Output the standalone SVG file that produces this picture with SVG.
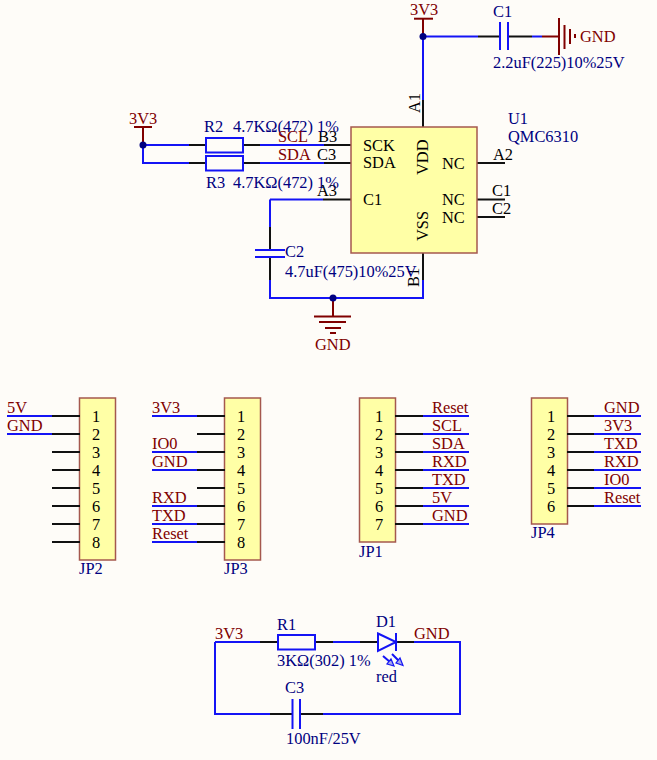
<svg xmlns="http://www.w3.org/2000/svg" width="657" height="760" viewBox="0 0 657 760">
<style>
text{font-family:"Liberation Serif","Times New Roman",serif;font-size:16.4px}
.n{fill:#000080}.r{fill:#800000}.k{fill:#000}
.w{fill:none;stroke:#1414f5;stroke-width:2}
.p{fill:none;stroke:#111;stroke-width:2}
.d{fill:none;stroke:#800000;stroke-width:2}
.b{fill:#ffffa6;stroke:#a5584e;stroke-width:1.5}
.c{fill:none;stroke:#1414f5;stroke-width:2}
.a{fill:#a8a8e8;stroke:#1414f5;stroke-width:1.2}
.j{fill:#000080}
.m{text-anchor:middle}
</style>
<rect width="657" height="760" fill="#fefcf8"/>
<g id="connectors">
<path class="w" d="M423 36.500V100M423 36.500H478M532 36.500H542M143 145H189M143 145V163H189M260 145H324M260 163H324M270 199.500H323M270 199.500V227M270 280V298H423V280M215 642H260M333 642H360M414 642H460V714H323M270 714H215V642"/>
<path class="p" d="M423 100V127M478 36.500H500M508 36.500H532M189 145H206M243 145H260M189 163H206M243 163H260M324 145H351M324 163H351M323 199.500H351M270 227V250M270 257V280M423 253V280M477 163H505M477 199.500H505M477 217H505M260 642H278M315 642H333M360 642H378M396 642H414M270 714H292M300 714H323"/>
<path class="d" d="M423 36.500V19M143 145V127M333 298V316M542 36.500H559"/>
</g>
<g id="U1">
<rect class="b" x="351" y="127" width="126" height="126"/>
<text class="k" x="363" y="151">SCK</text><text class="k" x="363" y="168">SDA</text><text class="k" x="363" y="205">C1</text>
<text class="k" x="442" y="169">NC</text><text class="k" x="442" y="205">NC</text><text class="k" x="442" y="223">NC</text>
<text class="k" transform="translate(428 175) rotate(-90)">VDD</text><text class="k" transform="translate(428 241) rotate(-90)">VSS</text>
<text class="k" transform="translate(420 113) rotate(-90)">A1</text><text class="k" transform="translate(419 287) rotate(-90)">B1</text>
<text class="k" x="318" y="142">B3</text><text class="k" x="317" y="160">C3</text><text class="k" x="317" y="196">A3</text>
<text class="k" x="493" y="160">A2</text><text class="k" x="492" y="196">C1</text><text class="k" x="492" y="214">C2</text>
<text class="n" x="508" y="124">U1</text><text class="n" x="508" y="142">QMC6310</text>
</g>
<g id="PWR-top"><path class="d" d="M414 18.700H433"/><circle class="j" cx="423" cy="36.500" r="3.500"/><text class="r" x="410" y="15">3V3</text></g>
<g id="C1"><path class="c" d="M500 22V50M508 22V50"/><text class="n" x="493" y="17">C1</text><text class="n" x="493" y="68">2.2uF(225)10%25V</text></g>
<g id="GND-C1"><path class="d" d="M559 18V55M564.500 25V49M570 29V44M575 34V38"/><text class="r" x="580" y="42">GND</text></g>
<g id="PWR-left"><path class="d" d="M134 127H152"/><circle class="j" cx="143" cy="145" r="3.500"/><text class="r" x="129" y="124">3V3</text></g>
<g id="R2"><rect class="c" x="206" y="138" width="37" height="14.500"/><text class="n" x="204" y="132">R2</text><text class="n" x="233" y="132">4.7KΩ(472) 1%</text></g>
<g id="R3"><rect class="c" x="206" y="156" width="37" height="14.500"/><text class="n" x="206" y="188">R3</text><text class="n" x="233" y="188">4.7KΩ(472) 1%</text></g>
<g id="NetSCL"><text class="r" x="278" y="142">SCL</text></g>
<g id="NetSDA"><text class="r" x="278" y="160">SDA</text></g>
<g id="C2"><path class="c" d="M255 250H285M255 257H285"/><text class="n" x="285" y="257">C2</text><text class="n" x="285" y="277">4.7uF(475)10%25V</text></g>
<g id="GND-U1"><circle class="j" cx="333" cy="298" r="3.500"/><path class="d" d="M314 316.500H351M319 322H346M325 328H341M330 333H336"/><text class="r" x="315" y="350">GND</text></g>

<g id="JP2">
<rect class="b" x="79.500" y="398" width="36" height="162"/>
<path class="w" d="M7 416H52M7 434H52"/>
<path class="p" d="M52 416H80M52 434H80M52 452H80M52 470H80M52 488H80M52 506H80M52 524H80M52 542H80"/>
<g class="m"><text x="96" y="422">1</text><text x="96" y="440">2</text><text x="96" y="458">3</text><text x="96" y="476">4</text><text x="96" y="494">5</text><text x="96" y="512">6</text><text x="96" y="530">7</text><text x="96" y="548">8</text></g>
<text class="r" x="7" y="413">5V</text><text class="r" x="7" y="431">GND</text>
<text class="n" x="79" y="574">JP2</text>
</g>
<g id="JP3">
<rect class="b" x="224.500" y="398" width="36" height="162"/>
<path class="w" d="M152 416H197M152 452H197M152 470H197M152 506H197M152 524H197M152 542H197"/>
<path class="p" d="M197 416H225M197 434H225M197 452H225M197 470H225M197 488H225M197 506H225M197 524H225M197 542H225"/>
<g class="m"><text x="241" y="422">1</text><text x="241" y="440">2</text><text x="241" y="458">3</text><text x="241" y="476">4</text><text x="241" y="494">5</text><text x="241" y="512">6</text><text x="241" y="530">7</text><text x="241" y="548">8</text></g>
<text class="r" x="152" y="413">3V3</text><text class="r" x="152" y="449">IO0</text><text class="r" x="152" y="467">GND</text><text class="r" x="152" y="503">RXD</text><text class="r" x="152" y="521">TXD</text><text class="r" x="152" y="539">Reset</text>
<text class="n" x="224" y="574">JP3</text>
</g>
<g id="JP1">
<rect class="b" x="359.500" y="398" width="36" height="144"/>
<path class="w" d="M423 416H469M423 434H469M423 452H469M423 470H469M423 488H469M423 506H469M423 524H469"/>
<path class="p" d="M395 416H423M395 434H423M395 452H423M395 470H423M395 488H423M395 506H423M395 524H423"/>
<g class="m"><text x="379" y="422">1</text><text x="379" y="440">2</text><text x="379" y="458">3</text><text x="379" y="476">4</text><text x="379" y="494">5</text><text x="379" y="512">6</text><text x="379" y="530">7</text></g>
<text class="r" x="432" y="413">Reset</text><text class="r" x="432" y="431">SCL</text><text class="r" x="432" y="449">SDA</text><text class="r" x="432" y="467">RXD</text><text class="r" x="432" y="485">TXD</text><text class="r" x="432" y="503">5V</text><text class="r" x="432" y="521">GND</text>
<text class="n" x="359" y="557">JP1</text>
</g>
<g id="JP4">
<rect class="b" x="531.500" y="398" width="36" height="126"/>
<path class="w" d="M594 416H641M594 434H641M594 452H641M594 470H641M594 488H641M594 506H641"/>
<path class="p" d="M567 416H594M567 434H594M567 452H594M567 470H594M567 488H594M567 506H594"/>
<g class="m"><text x="551" y="422">1</text><text x="551" y="440">2</text><text x="551" y="458">3</text><text x="551" y="476">4</text><text x="551" y="494">5</text><text x="551" y="512">6</text></g>
<text class="r" x="604" y="413">GND</text><text class="r" x="604" y="431">3V3</text><text class="r" x="604" y="449">TXD</text><text class="r" x="604" y="467">RXD</text><text class="r" x="604" y="485">IO0</text><text class="r" x="604" y="503">Reset</text>
<text class="n" x="531" y="538">JP4</text>
</g>
<g id="R1"><rect class="c" x="278" y="635" width="37" height="14.500"/><text class="n" x="277" y="630">R1</text><text class="n" x="277" y="666">3KΩ(302) 1%</text></g>
<g id="D1"><path class="c" d="M378 633.500L396 642L378 651ZM396 633V651"/>
<path class="c" d="M383 656L390 662M392 654L399 661"/><path class="a" d="M394 666L387 664L391 659ZM403 665.500L396 663L400 658Z"/>
<text class="n" x="376" y="627">D1</text><text class="n" x="376" y="682">red</text></g>
<g id="Net3V3"><text class="r" x="215" y="639">3V3</text></g>
<g id="NetGND"><text class="r" x="414" y="639">GND</text></g>
<g id="C3"><path class="c" d="M292.500 699V729M300 699V729"/><text class="n" x="285" y="693">C3</text><text class="n" x="286" y="744">100nF/25V</text></g>
</svg>
